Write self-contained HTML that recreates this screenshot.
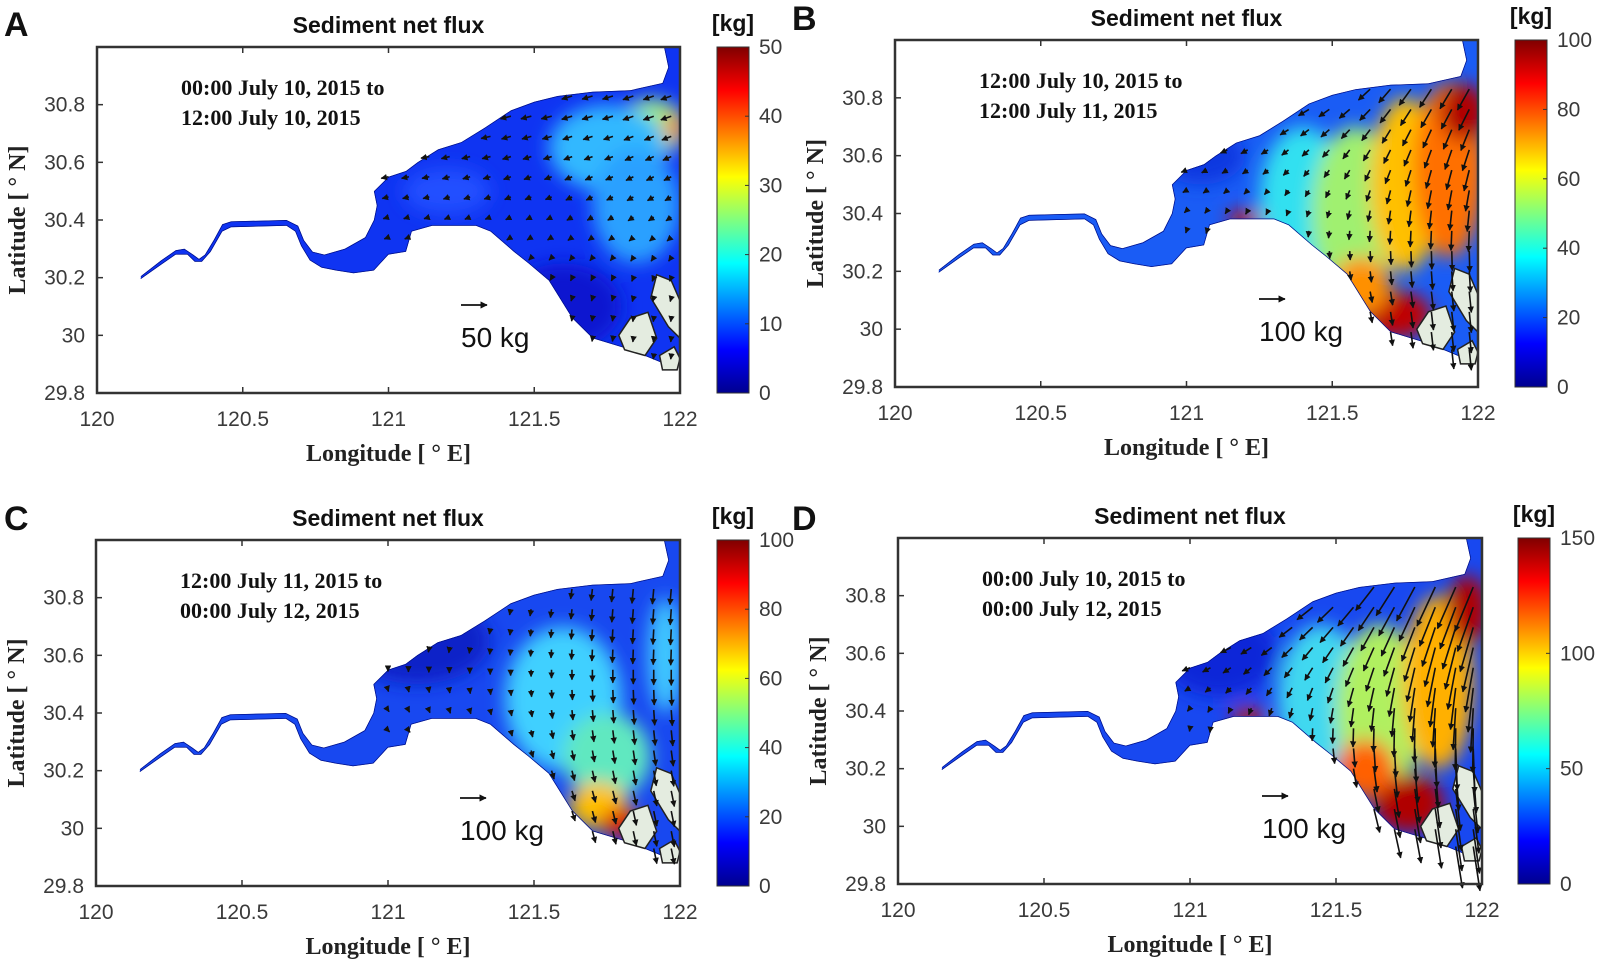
<!DOCTYPE html>
<html><head><meta charset="utf-8"><title>Sediment net flux</title>
<style>
html,body{margin:0;padding:0;background:#fff;}
svg{display:block;}
.tick{font-family:"Liberation Sans",sans-serif;font-size:21px;fill:#3a3a3a;}
.ttl{font-family:"Liberation Sans",sans-serif;font-size:23px;font-weight:bold;fill:#111;}
.axl{font-family:"Liberation Serif",serif;font-size:24px;font-weight:bold;fill:#222;}
.tm{font-family:"Liberation Serif",serif;font-size:22px;font-weight:bold;fill:#111;}
.let{font-family:"Liberation Sans",sans-serif;font-size:34px;font-weight:bold;fill:#111;}
.ref{font-family:"Liberation Sans",sans-serif;font-size:28px;fill:#111;}
</style></head>
<body>
<svg id="fig" width="1600" height="970" viewBox="0 0 1600 970" xmlns="http://www.w3.org/2000/svg">
<defs>
<linearGradient id="jet" x1="0" y1="1" x2="0" y2="0">
<stop offset="0" stop-color="#00008f"/><stop offset="0.125" stop-color="#0000ff"/>
<stop offset="0.375" stop-color="#00ffff"/><stop offset="0.625" stop-color="#ffff00"/>
<stop offset="0.875" stop-color="#ff0000"/><stop offset="1" stop-color="#800000"/>
</linearGradient>
<filter id="blur" x="-50%" y="-50%" width="200%" height="200%"><feGaussianBlur stdDeviation="9"/></filter>
<marker id="ah" viewBox="0 0 10 10" refX="9" refY="5" markerWidth="4" markerHeight="4" orient="auto"><path d="M0,0 L10,5 L0,10 z" fill="#111"/></marker>
</defs>
</svg>
<script>
// ---- data ----
const lonTicks = [120, 120.5, 121, 121.5, 122];
const latTicks = [29.8, 30, 30.2, 30.4, 30.6, 30.8];
const cbTicksA = [0, 10, 20, 30, 40, 50];
const cbTicksB = [0, 20, 40, 60, 80, 100];
const cbTicksC = [0, 20, 40, 60, 80, 100];
const cbTicksD = [0, 50, 100, 150];
const arrowLons = [121.0, 121.07, 121.14, 121.21, 121.28, 121.35, 121.42, 121.49, 121.56, 121.63, 121.7, 121.77, 121.84, 121.91, 121.97];
const arrowLats = [30.83, 30.76, 30.69, 30.62, 30.55, 30.48, 30.41, 30.34, 30.27, 30.2, 30.13, 30.06, 29.99, 29.93];
// east component per row (kg) and south component per column (kg)
const rowU_A = [-20, -20, -18, -16, -14, -12, -10, -8, -5, -3, -2, -1, -1, -1];
const colV_A = [-3, -3, -3, -4, -4, -4, -5, -5, -5, -6, -6, -6, -7, -7, -7];
const rowU_B = [-45, -40, -32, -26, -20, -14, -8, -3, 2, 5, 8, 8, 8, 8];
const colV_B = [-8, -10, -12, -14, -16, -20, -24, -28, -34, -42, -52, -62, -70, -75, -80];
const rowU_C = [-5, -4, -3, -2, 0, 2, 4, 6, 8, 10, 12, 12, 12, 12];
const colV_C = [-6, -8, -10, -12, -14, -18, -22, -26, -32, -38, -44, -50, -55, -58, -60];
const rowU_D = [-70, -60, -50, -40, -30, -20, -10, -2, 6, 12, 18, 22, 24, 26];
const colV_D = [-12, -16, -20, -25, -30, -38, -48, -58, -72, -90, -110, -130, -150, -160, -170];
const islandsData = [
  [[121.92,30.21],[121.97,30.19],[122,30.12],[122,29.99],[121.96,30.03],[121.9,30.13]],
  [[121.79,30.0],[121.83,30.06],[121.89,30.08],[121.92,29.99],[121.88,29.93],[121.81,29.95]],
  [[121.93,29.93],[121.98,29.96],[122,29.92],[121.99,29.88],[121.94,29.88]]
];
const domain = [[120.15,30.205],[120.22,30.26],[120.27,30.295],[120.30,30.30],[120.33,30.28],[120.35,30.265],[120.37,30.28],[120.40,30.33],[120.43,30.385],[120.46,30.395],[120.65,30.40],[120.69,30.38],[120.71,30.33],[120.74,30.29],[120.78,30.28],[120.85,30.30],[120.92,30.34],[120.95,30.40],[120.96,30.45],[120.95,30.50],[121.0,30.55],[121.06,30.57],[121.10,30.60],[121.17,30.645],[121.25,30.67],[121.33,30.72],[121.42,30.78],[121.5,30.81],[121.58,30.83],[121.7,30.845],[121.83,30.85],[121.94,30.875],[121.96,30.93],[121.945,31.0],[122,31.0],[122,29.9],[121.95,29.9],[121.83,29.95],[121.7,29.99],[121.63,30.06],[121.55,30.19],[121.48,30.25],[121.43,30.29],[121.35,30.36],[121.3,30.38],[121.15,30.38],[121.08,30.36],[121.06,30.29],[121.0,30.28],[120.95,30.225],[120.88,30.215],[120.82,30.225],[120.77,30.235],[120.73,30.26],[120.70,30.31],[120.68,30.36],[120.65,30.38],[120.46,30.375],[120.43,30.36],[120.39,30.29],[120.36,30.255],[120.335,30.255],[120.31,30.28],[120.27,30.28],[120.22,30.245],[120.15,30.195]];

const NS = 'http://www.w3.org/2000/svg';
const svg = document.getElementById('fig');
function mk(tag, attrs, parent) {
  const e = document.createElementNS(NS, tag);
  for (const k in attrs) e.setAttribute(k, attrs[k]);
  (parent || svg).appendChild(e);
  return e;
}
function inPoly(lon, lat, poly) {
  let c = false;
  for (let i = 0, j = poly.length - 1; i < poly.length; j = i++) {
    const [xi, yi] = poly[i], [xj, yj] = poly[j];
    if ((yi > lat) !== (yj > lat) && lon < (xj - xi) * (lat - yi) / (yj - yi) + xi) c = !c;
  }
  return c;
}

const panels = [
  {id:'a', letter:'A', lx:4, ly:36, x0:97, x1:680, yt:47, yb:393, cbx:717, cbTicks:cbTicksA, cbMax:50, ref:50, refLabel:'50 kg',
   t1:'00:00 July 10, 2015 to', t2:'12:00 July 10, 2015', rowU:rowU_A, colV:colV_A, base:'#0f34f2',
   blobs:[[121.9,30.72,0.12,0.1,'#a0f080'],[121.75,30.65,0.2,0.15,'#30b8ff'],[121.85,30.45,0.15,0.2,'#2aa0ff'],[121.98,30.72,0.03,0.05,'#ff8000'],[121.6,30.1,0.2,0.15,'#0818d0'],[121.2,30.5,0.15,0.08,'#2050ff']]},
  {id:'b', letter:'B', lx:792, ly:30, x0:895, x1:1478, yt:40, yb:387, cbx:1515, cbTicks:cbTicksB, cbMax:100, ref:100, refLabel:'100 kg',
   t1:'12:00 July 10, 2015 to', t2:'12:00 July 11, 2015', rowU:rowU_B, colV:colV_B, base:'#1a5cf5',
   blobs:[[121.4,30.45,0.15,0.25,'#30e0f0'],[121.58,30.4,0.15,0.3,'#a0f070'],[121.75,30.5,0.12,0.3,'#ffc000'],[121.9,30.55,0.12,0.3,'#ff7000'],[121.95,30.75,0.08,0.1,'#b00000'],[121.72,30.05,0.12,0.08,'#c00000'],[121.6,30.15,0.1,0.1,'#ff9000'],[121.05,30.6,0.15,0.1,'#0838e0'],[121.2,30.38,0.06,0.03,'#d01000']]},
  {id:'c', letter:'C', lx:4, ly:530, x0:96, x1:680, yt:540, yb:886, cbx:717, cbTicks:cbTicksC, cbMax:100, ref:100, refLabel:'100 kg',
   t1:'12:00 July 11, 2015 to', t2:'00:00 July 12, 2015', rowU:rowU_C, colV:colV_C, base:'#1848f0',
   blobs:[[121.1,30.65,0.25,0.15,'#0820c8'],[121.6,30.45,0.2,0.25,'#40d0ff'],[121.75,30.25,0.15,0.15,'#60e8c0'],[121.72,30.08,0.1,0.08,'#ffc000'],[121.8,30.02,0.07,0.05,'#e01000'],[121.95,30.6,0.06,0.2,'#40c8ff']]},
  {id:'d', letter:'D', lx:792, ly:530, x0:898, x1:1482, yt:538, yb:884, cbx:1518, cbTicks:cbTicksD, cbMax:150, ref:100, refLabel:'100 kg',
   t1:'00:00 July 10, 2015 to', t2:'00:00 July 12, 2015', rowU:rowU_D, colV:colV_D, base:'#1848f0',
   blobs:[[121.1,30.6,0.2,0.15,'#0828d8'],[121.45,30.45,0.15,0.25,'#40d8f0'],[121.65,30.4,0.15,0.3,'#b0f060'],[121.85,30.5,0.12,0.3,'#ffb000'],[121.95,30.75,0.07,0.12,'#b00000'],[121.75,30.08,0.12,0.1,'#b00000'],[121.6,30.2,0.1,0.1,'#ff6000'],[121.2,30.38,0.06,0.03,'#d01000']]}
];

panels.forEach(p => {
  const X = lon => p.x0 + (lon - 120) / 2 * (p.x1 - p.x0);
  const Y = lat => p.yb - (lat - 29.8) / 1.2 * (p.yb - p.yt);
  const pxPerKg = 26 / p.ref;
  const g = mk('g', {});
  
  

  const letter = mk('text', {x:p.lx, y:p.ly, class:'let'}, g);
  letter.textContent = p.letter;
  
  

  const title = mk('text', {x:(p.x0+p.x1)/2, y:p.yt-14, class:'ttl', 'text-anchor':'middle'}, g);
  title.textContent = 'Sediment net flux';
  
  

  const pts = domain.map(d => X(d[0]).toFixed(1) + ',' + Y(d[1]).toFixed(1)).join(' ');
  const cp = mk('clipPath', {id:'clip-' + p.id}, g);
  mk('polygon', {points:pts}, cp);
  const field = mk('g', {'clip-path':'url(#clip-' + p.id + ')'}, g);
  
  
  mk('polygon', {points:pts, fill:p.base}, field);
  const bg = mk('g', {filter:'url(#blur)'}, field);
  p.blobs.forEach(b => {
    mk('ellipse', {cx:X(b[0]), cy:Y(b[1]), rx:b[2]/2*(p.x1-p.x0), ry:b[3]/1.2*(p.yb-p.yt), fill:b[4]}, bg);
  });
  mk('polyline', {points:pts, fill:'none', stroke:'#00108a', 'stroke-width':1.5}, field);

  islandsData.forEach((isl, k) => {
    const ip = mk('polygon', {points:isl.map(d => X(d[0]) + ',' + Y(d[1])).join(' '), fill:'#e4ece0', stroke:'#222', 'stroke-width':1.5}, g);
    
    
  });

  const ag = mk('g', {}, g);
  
  
  arrowLats.forEach((lat, r) => {
    arrowLons.forEach((lon, c) => {
      if (!inPoly(lon, lat, domain)) return;
      const u = p.rowU[r], v = p.colV[c];
      const x = X(lon), y = Y(lat);
      const ln = mk('line', {x1:x, y1:y, x2:x + u * pxPerKg, y2:y - v * pxPerKg, stroke:'#111', 'stroke-width':1.6, 'marker-end':'url(#ah)'}, ag);
      
      
    });
  });

  const box = mk('rect', {x:p.x0, y:p.yt, width:p.x1-p.x0, height:p.yb-p.yt, fill:'none', stroke:'#333', 'stroke-width':2.5}, g);
  
  
  lonTicks.forEach(t => {
    mk('line', {x1:X(t), x2:X(t), y1:p.yb, y2:p.yb-6, stroke:'#333', 'stroke-width':1.5}, g);
    mk('line', {x1:X(t), x2:X(t), y1:p.yt, y2:p.yt+6, stroke:'#333', 'stroke-width':1.5}, g);
    const tl = mk('text', {x:X(t), y:p.yb+33, class:'tick', 'text-anchor':'middle'}, g);
    tl.textContent = String(t);
    
    
  });
  latTicks.forEach(t => {
    mk('line', {x1:p.x0, x2:p.x0+6, y1:Y(t), y2:Y(t), stroke:'#333', 'stroke-width':1.5}, g);
    const tl = mk('text', {x:p.x0-12, y:Y(t)+7, class:'tick', 'text-anchor':'end'}, g);
    tl.textContent = String(t);
    
    
  });
  const xl = mk('text', {x:(p.x0+p.x1)/2, y:p.yb+68, class:'axl', 'text-anchor':'middle'}, g);
  xl.textContent = 'Longitude [ ° E]';
  
  
  const yc = (p.yt + p.yb) / 2, xc = p.x0 - 72;
  const yl = mk('text', {x:xc, y:yc, class:'axl', 'text-anchor':'middle', transform:'rotate(-90 ' + xc + ' ' + yc + ')'}, g);
  yl.textContent = 'Latitude [ ° N]';
  
  

  const t1 = mk('text', {x:p.x0+84, y:p.yt+48, class:'tm'}, g);
  t1.textContent = p.t1;
  
  
  const t2 = mk('text', {x:p.x0+84, y:p.yt+78, class:'tm'}, g);
  t2.textContent = p.t2;
  
  

  const rx = p.x0 + 364, ry = p.yb - 88;
  const ra = mk('line', {x1:rx, y1:ry, x2:rx + p.ref * pxPerKg, y2:ry, stroke:'#111', 'stroke-width':1.8, 'marker-end':'url(#ah)'}, g);
  
  
  const rl = mk('text', {x:rx, y:p.yb-46, class:'ref'}, g);
  rl.textContent = p.refLabel;
  
  

  const cb = mk('rect', {x:p.cbx, y:p.yt, width:32, height:p.yb-p.yt, fill:'url(#jet)', stroke:'#333', 'stroke-width':1}, g);
  
  
  const kg = mk('text', {x:p.cbx+16, y:p.yt-16, class:'ttl', 'text-anchor':'middle'}, g);
  kg.textContent = '[kg]';
  
  
  p.cbTicks.forEach(t => {
    const yy = p.yb - t / p.cbMax * (p.yb - p.yt);
    mk('line', {x1:p.cbx+28, x2:p.cbx+32, y1:yy, y2:yy, stroke:'#333', 'stroke-width':1}, g);
    const cl = mk('text', {x:p.cbx+42, y:yy+7, class:'tick'}, g);
    cl.textContent = String(t);
    
    
  });
});
</script>
</body></html>
